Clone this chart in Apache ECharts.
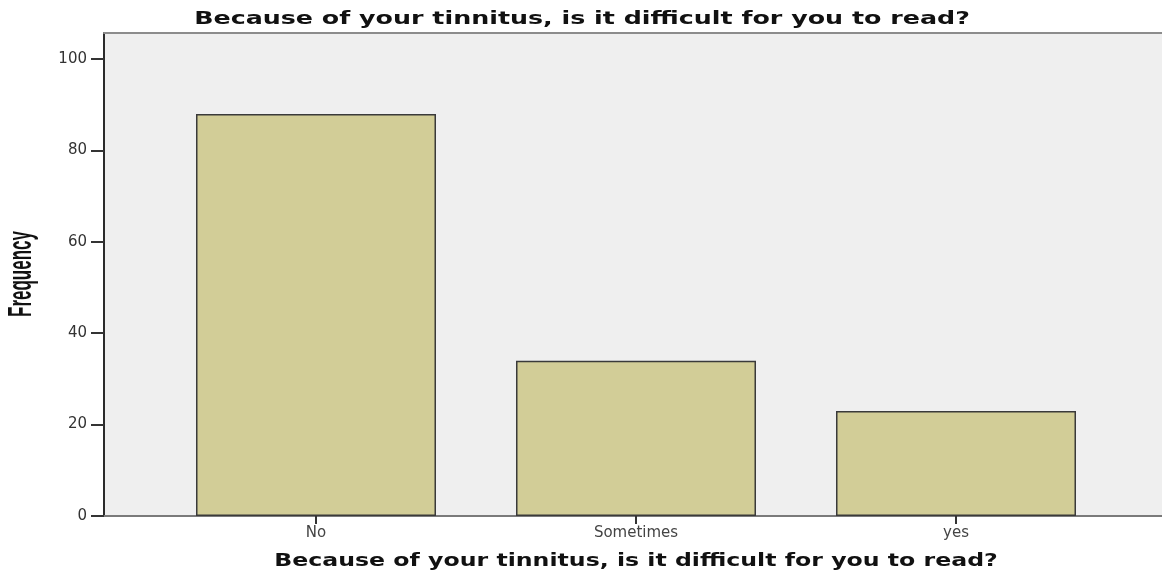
<!DOCTYPE html>
<html>
<head>
<meta charset="utf-8">
<script src="https://cdn.jsdelivr.net/npm/echarts@6/dist/echarts.min.js"></script>
<style>
  html, body { margin: 0; padding: 0; background: #fff; }
  #chart { width: 1162px; height: 573px; }
</style>
</head>
<body>
<div id="chart"></div>
<script>
const categories = ['No', 'Sometimes', 'yes'];
const frequencies = [88, 34, 23];
const yTicks = [0, 20, 40, 60, 80, 100];
const yMax = 105.7;
const titleText = 'Because of your tinnitus, is it difficult for you to read?';
const xName = 'Because of your tinnitus, is it difficult for you to read?';
const yName = 'Frequency';

const chart = echarts.init(document.getElementById('chart'));

const labelFont = { fontFamily: 'DejaVu Sans', fontSize: 15, color: '#333' };

const option = {
    animation: false,
    backgroundColor: '#fff',
    grid: [
        // plot frame (background + y axis)
        { left: 104, right: 0, top: 33, bottom: 57, show: true, backgroundColor: '#efefef', borderWidth: 0 },
        // bars, inset inside the frame
        { left: 156, right: 46, top: 33, bottom: 57 }
    ],
    xAxis: [
        {
            gridIndex: 0, type: 'value', min: 0, max: 1, position: 'bottom',
            axisLine: { show: true, lineStyle: { color: '#7a7a7a', width: 2 } },
            axisTick: { show: false }, axisLabel: { show: false }, splitLine: { show: false }
        },
        {
            gridIndex: 0, type: 'value', min: 0, max: 1, position: 'top',
            axisLine: { show: true, lineStyle: { color: '#8c8c8c', width: 2 } },
            axisTick: { show: false }, axisLabel: { show: false }, splitLine: { show: false }
        },
        {
            gridIndex: 1, type: 'category', data: categories,
            axisLine: { show: false },
            axisTick: { show: true, alignWithLabel: true, length: 8, lineStyle: { color: '#333', width: 2 } },
            axisLabel: Object.assign({ margin: 10 }, labelFont, { color: '#444' })
        }
    ],
    yAxis: [
        {
            gridIndex: 0, type: 'value', min: 0, max: yMax,
            axisLine: { show: true, lineStyle: { color: '#2b2b2b', width: 2 } },
            axisTick: { show: true, length: 13, customValues: yTicks, lineStyle: { color: '#333', width: 2 } },
            axisLabel: Object.assign({ margin: 17, customValues: yTicks }, labelFont),
            splitLine: { show: false }
        },
        {
            gridIndex: 1, type: 'value', min: 0, max: yMax, show: false
        }
    ],
    series: [
        {
            type: 'bar',
            xAxisIndex: 2,
            yAxisIndex: 1,
            data: frequencies,
            barWidth: 240,
            itemStyle: { color: '#d2cd97', borderColor: '#3a3a3a', borderWidth: 1.5 }
        }
    ],
    graphic: [
        {
            type: 'text', x: 582, y: 20, scaleX: 1.49,
            style: {
                text: titleText, align: 'center', verticalAlign: 'middle',
                fontFamily: 'DejaVu Sans', fontWeight: 'bold', fontSize: 17, fill: '#111'
            }
        },
        {
            type: 'text', x: 636, y: 562, scaleX: 1.39,
            style: {
                text: xName, align: 'center', verticalAlign: 'middle',
                fontFamily: 'DejaVu Sans', fontWeight: 'bold', fontSize: 17, fill: '#111'
            }
        },
        {
            type: 'text', x: 22, y: 274, rotation: Math.PI / 2, scaleY: 1.9,
            style: {
                text: yName, align: 'center', verticalAlign: 'middle',
                fontFamily: 'Liberation Sans', fontWeight: 'bold', fontSize: 17, fill: '#111'
            }
        }
    ]
};

chart.setOption(option);
window.addEventListener('resize', () => chart.resize());
</script>
</body>
</html>
